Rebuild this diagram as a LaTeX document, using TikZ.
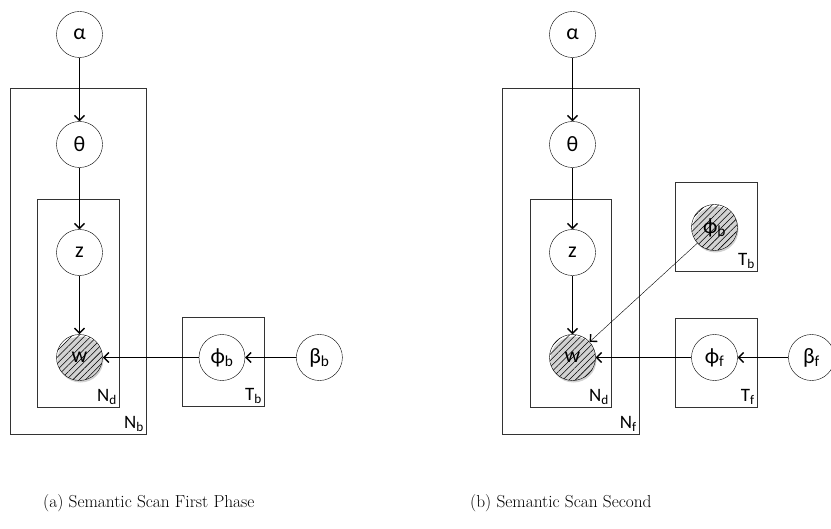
\documentclass[tikz,border=0pt]{standalone}
\usepackage{fontspec}
\newfontfamily\calfont{Carlito}
\usetikzlibrary{positioning, patterns.meta, shadows, arrows.meta}
\tikzset{
    -{Straight Barb[length=5bp,width=10bp,line width=1.4bp]}, line width=0.9bp,
    var/.style ={circle, draw, fill=white, minimum size=46bp, inner sep=0pt, font=\calfont\fontsize{22}{24}\selectfont}, % the random variables
    obs/.style ={var, preaction={fill=white}, pattern={Lines[angle=45,distance=4.5bp,line width=0.55bp]}, drop shadow={shadow xshift=1bp, shadow yshift=-2bp, fill=black!35}},
    plate/.style = {draw=black!80, line width=0.9bp, inner sep=0pt},
    platelbl/.style = {anchor=south east, inner sep=3bp, font=\calfont\fontsize{19}{20}\selectfont},
    caption/.style = {anchor=base west, inner sep=0pt, font=\fontsize{17.4}{20}\selectfont}
}
\begin{document}
\begin{tikzpicture}[x=1bp, y=-1bp]
    \clip (0,0) rectangle (831,529);
    \fill[white] (0,0) rectangle (831,529);

    % (a) first phase
    \node[plate, minimum width=136bp, minimum height=346bp] (Nb1) at (78.5,261.5) {};
    \node[plate, minimum width=82bp, minimum height=208bp] (Nd1) at (78.5,303.5) {};
    \node[plate, minimum width=82bp, minimum height=89bp] (Tb1) at (223.5,362) {};
    \node[platelbl] at (Nb1.south east) {N\textsubscript{b}};
    \node[platelbl] at (Nd1.south east) {N\textsubscript{d}};
    \node[platelbl] at (Tb1.south east) {T\textsubscript{b}};

    \node[var] (alpha1) at (79.5,34.5) {α};
    \node[var] (theta1) at (79.5,144.5) {θ};
    \node[var] (z1) at (79.5,252.5) {z};
    \node[obs] (w1) at (79.5,357.5) {w};
    \node[var] (phib1) [right =96bp of w1] {ϕ\textsubscript{b}};
    \node[var] (betab1) [right =51bp of phib1] {β\textsubscript{b}};
    \draw (alpha1) -- (theta1);
    \draw (theta1) -- (z1);
    \draw (z1) -- (w1);
    \draw (phib1) -- (w1);
    \draw (betab1) -- (phib1);

    % (b) second phase
    \node[plate, minimum width=137bp, minimum height=346bp] (Nf2) at (571,261.5) {};
    \node[plate, minimum width=81bp, minimum height=208bp] (Nd2) at (571,303.5) {};
    \node[plate, minimum width=82bp, minimum height=89bp] (Tb2) at (716.5,227) {};
    \node[plate, minimum width=82bp, minimum height=89bp] (Tf2) at (716.5,363) {};
    \node[platelbl] at (Nf2.south east) {N\textsubscript{f}};
    \node[platelbl] at (Nd2.south east) {N\textsubscript{d}};
    \node[platelbl] at (Tb2.south east) {T\textsubscript{b}};
    \node[platelbl] at (Tf2.south east) {T\textsubscript{f}};

    \node[var] (alpha2) at (572.5,34.5) {α};
    \node[var] (theta2) at (572.5,144.5) {θ};
    \node[var] (z2) at (572.5,252.5) {z};
    \node[obs] (w2) at (572.5,357.5) {w};
    \node[obs] (phib2) at (714.5,227.5) {ϕ\textsubscript{b}};
    \node[var] (phif2) at (714.5,357.5) {ϕ\textsubscript{f}};
    \node[var] (betaf2) at (811.5,357.5) {β\textsubscript{f}};
    \draw (alpha2) -- (theta2);
    \draw (theta2) -- (z2);
    \draw (z2) -- (w2);
    \draw (phib2) -- (w2);
    \draw (phif2) -- (w2);
    \draw (betaf2) -- (phif2);

    % captions
    \node[caption] (capa) at (43,507) {(a) Semantic Scan First Phase};
    \node[caption] (capb) at (470,507) {(b) Semantic Scan Second};
\end{tikzpicture}
\end{document}
